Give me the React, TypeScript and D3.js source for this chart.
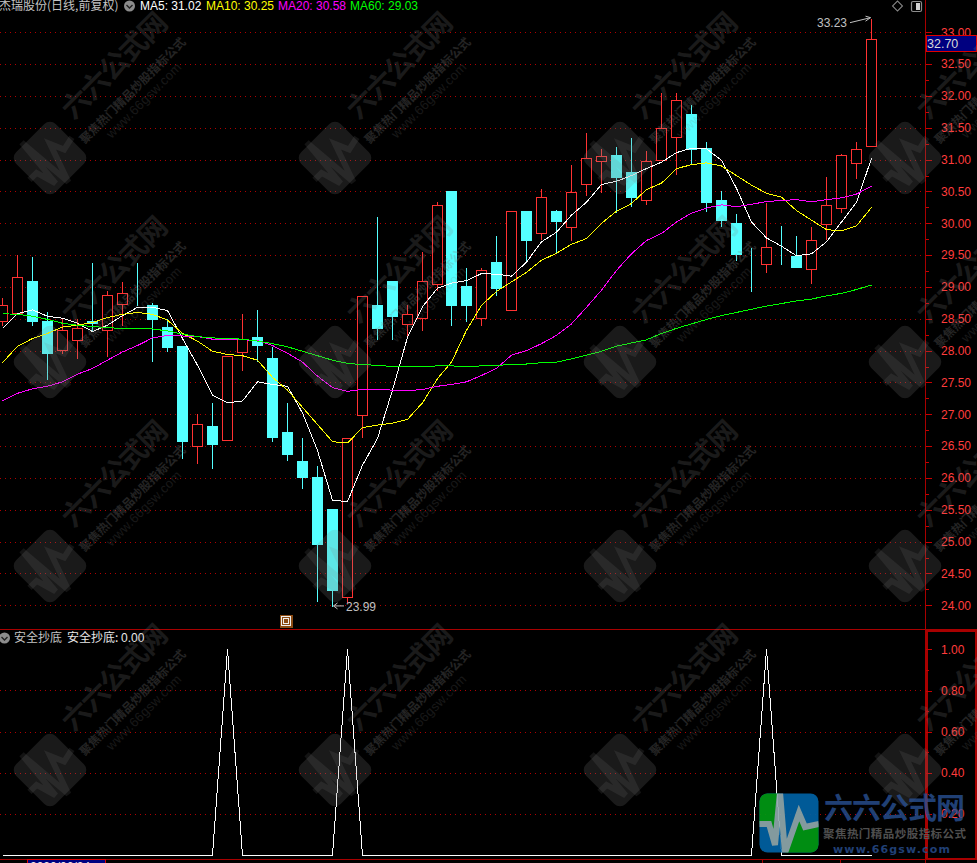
import React, { useEffect, useRef } from 'react';
import * as d3 from 'd3';

const WIDTH = 977;
const HEIGHT = 863;

// daily prices, one entry per candle
const opens = [28.47, 28.59, 29.10, 28.46, 28.01, 28.17, 28.46, 28.33, 28.74, 28.82, 28.71, 28.37, 28.08, 26.50, 26.81, 26.60, 27.98, 28.21, 27.88, 26.72, 26.26, 26.01, 25.52, 24.13, 26.99, 28.71, 29.09, 28.42, 28.51, 29.05, 30.50, 29.01, 28.51, 29.40, 28.64, 30.19, 29.85, 30.20, 29.94, 30.62, 30.98, 31.07, 30.80, 30.36, 30.99, 31.35, 31.71, 31.19, 30.36, 30.00, 29.39, 29.36, 29.63, 29.48, 29.28, 29.99, 30.24, 30.95, 31.22];
const closes = [28.71, 29.15, 28.47, 27.96, 28.33, 28.35, 28.43, 28.88, 28.90, 28.82, 28.50, 28.06, 26.58, 26.85, 26.53, 27.92, 28.18, 28.09, 26.64, 26.38, 26.01, 24.96, 24.24, 26.62, 28.86, 28.35, 28.55, 28.57, 29.10, 30.29, 28.71, 28.71, 29.26, 28.98, 30.20, 29.73, 30.42, 30.03, 30.49, 31.02, 31.06, 30.72, 30.41, 30.98, 31.49, 31.93, 31.17, 30.33, 30.05, 29.51, 29.39, 29.62, 29.63, 29.32, 29.73, 30.28, 31.07, 31.16, 32.89];
const highs = [28.84, 29.51, 29.48, 28.63, 28.51, 28.52, 29.39, 28.96, 29.10, 29.40, 28.76, 28.52, 28.08, 27.02, 27.19, 27.92, 28.59, 28.66, 28.07, 27.19, 26.65, 26.20, 25.52, 26.63, 28.86, 30.11, 29.09, 28.73, 29.56, 30.35, 30.50, 29.31, 29.32, 29.81, 30.20, 30.20, 30.55, 30.22, 30.93, 31.43, 31.19, 31.21, 31.35, 31.15, 32.06, 32.07, 31.88, 31.30, 30.52, 30.16, 29.62, 30.33, 29.97, 29.81, 29.95, 30.75, 31.10, 31.29, 33.23];
const lows = [28.41, 28.59, 28.41, 27.55, 27.96, 27.88, 28.32, 27.92, 28.41, 28.71, 27.84, 28.00, 26.31, 26.24, 26.15, 26.60, 27.70, 27.84, 26.58, 26.29, 25.84, 24.06, 23.99, 24.05, 26.64, 28.19, 28.19, 28.21, 28.33, 28.95, 28.41, 28.47, 28.40, 28.87, 28.64, 29.42, 29.75, 29.53, 29.73, 30.44, 30.49, 30.18, 30.27, 30.31, 30.99, 30.77, 30.94, 30.20, 29.96, 29.42, 28.93, 29.23, 29.36, 29.31, 29.07, 29.75, 30.17, 30.71, 31.22];

const ma5 = [28.35, 28.58, 28.64, 28.54, 28.51, 28.43, 28.30, 28.40, 28.55, 28.68, 28.68, 28.63, 28.19, 27.77, 27.30, 27.18, 27.21, 27.51, 27.47, 27.44, 27.02, 26.43, 25.65, 25.63, 26.20, 26.62, 27.38, 28.21, 28.69, 28.98, 29.06, 29.10, 29.21, 29.20, 29.17, 29.39, 29.71, 29.86, 30.13, 30.33, 30.61, 30.66, 30.75, 30.86, 30.96, 31.11, 31.18, 31.17, 30.99, 30.55, 30.02, 29.77, 29.64, 29.49, 29.52, 29.71, 30.02, 30.33, 31.02];
const ma10 = [27.81, 28.07, 28.19, 28.27, 28.37, 28.40, 28.44, 28.52, 28.57, 28.60, 28.57, 28.48, 28.27, 28.15, 27.99, 27.94, 27.92, 27.85, 27.58, 27.38, 27.11, 26.84, 26.57, 26.55, 26.79, 26.83, 26.86, 26.92, 27.18, 27.56, 27.82, 28.32, 28.71, 28.93, 29.08, 29.23, 29.42, 29.53, 29.67, 29.76, 30.00, 30.19, 30.31, 30.53, 30.63, 30.86, 30.92, 30.95, 30.90, 30.75, 30.60, 30.47, 30.41, 30.20, 30.05, 29.90, 29.88, 29.96, 30.25];
const ma20 = [27.21, 27.33, 27.40, 27.44, 27.51, 27.63, 27.72, 27.85, 27.98, 28.08, 28.20, 28.24, 28.23, 28.22, 28.18, 28.18, 28.17, 28.16, 28.08, 27.96, 27.82, 27.60, 27.42, 27.36, 27.39, 27.39, 27.38, 27.37, 27.39, 27.44, 27.47, 27.51, 27.61, 27.72, 27.93, 28.00, 28.11, 28.24, 28.42, 28.68, 28.95, 29.26, 29.52, 29.73, 29.84, 30.02, 30.16, 30.24, 30.29, 30.26, 30.30, 30.34, 30.36, 30.37, 30.34, 30.37, 30.40, 30.46, 30.58];
const ma60 = [28.58, 28.57, 28.54, 28.49, 28.43, 28.40, 28.38, 28.36, 28.35, 28.35, 28.34, 28.31, 28.26, 28.22, 28.20, 28.19, 28.18, 28.15, 28.11, 28.06, 27.99, 27.92, 27.85, 27.80, 27.78, 27.77, 27.75, 27.75, 27.75, 27.76, 27.76, 27.75, 27.76, 27.77, 27.78, 27.79, 27.81, 27.82, 27.87, 27.93, 27.99, 28.07, 28.12, 28.17, 28.27, 28.35, 28.42, 28.49, 28.55, 28.60, 28.65, 28.70, 28.74, 28.78, 28.81, 28.86, 28.90, 28.96, 29.03];

const signal = [0, 0, 0, 0, 0, 0, 0, 0, 0, 0, 0, 0, 0, 0, 0, 1, 0, 0, 0, 0, 0, 0, 0, 1, 0, 0, 0, 0, 0, 0, 0, 0, 0, 0, 0, 0, 0, 0, 0, 0, 0, 0, 0, 0, 0, 0, 0, 0, 0, 0, 0, 1, 0, 0, 0, 0, 0, 0, 0];

const priceTicks = [24, 24.5, 25, 25.5, 26, 26.5, 27, 27.5, 28, 28.5, 29, 29.5, 30, 30.5, 31, 31.5, 32, 32.5, 33];
const priceMinorTicks = priceTicks.slice(0, -1).map(t => t + 0.25);
const signalTicks = [0.2, 0.4, 0.6, 0.8, 1];
const signalMinorTicks = [0.3, 0.5, 0.7, 0.9];

const maSeries = [
  { name: 'MA5', values: ma5, color: '#ffffff', labelX: 140 },
  { name: 'MA10', values: ma10, color: '#ffff00', labelX: 206 },
  { name: 'MA20', values: ma20, color: '#ff00ff', labelX: 278 },
  { name: 'MA60', values: ma60, color: '#00ff00', labelX: 350 },
];

const STOCK_TITLE = '杰瑞股份(日线,前复权)';
const INDICATOR_NAME = '安全抄底';
const SITE_NAME = '六六公式网';
const SITE_SLOGAN = '聚焦热门精品炒股指标公式';
const SITE_URL = 'www.66gsw.com';
const LAST_PRICE = 32.7;
const HIGH_PRICE = 33.23;
const LOW_PRICE = 23.99;

const RED = '#ff3232';
const CYAN = '#54ffff';
const FRAME = '#a80000';
const GRID = '#b00000';
const LATIN = '"Liberation Sans", Arial, sans-serif';
const CJK = '"Noto Sans CJK SC", sans-serif';

// pulse drawn through the site logo, in logo units around its centre
const logoPulse: [number, number][] = [[-30, 1], [-20, 1], [-14, 22], [-9, -31], [-4, 30], [10, -10], [16, 4], [30, 1]];

export default function App() {
  const svgRef = useRef<SVGSVGElement>(null);

  useEffect(() => {
    if (!svgRef.current) return;
    const svg = d3.select(svgRef.current);
    svg.selectAll('*').remove();

    const x = d3.scaleLinear().domain([0, opens.length - 1]).range([2.5, 871.5]);
    const px = (i: number) => Math.floor(x(i)) + 0.5;
    const y = d3.scaleLinear().domain([24, 33]).range([605.3, 32.3]);
    const py = (v: number) => Math.round(y(v)) + 0.5;
    const ySignal = d3.scaleLinear().domain([0, 1]).range([855.3, 649.3]);

    svg.append('rect').attr('width', WIDTH).attr('height', HEIGHT).attr('fill', '#000');

    // Grid lines
    const grid = svg.append('g').attr('stroke', GRID).attr('stroke-dasharray', '1,4').attr('shape-rendering', 'crispEdges');
    priceTicks.forEach(t => {
      grid.append('line').attr('x1', 0).attr('x2', 925).attr('y1', py(t)).attr('y2', py(t));
    });
    signalTicks.slice(0, -1).forEach(t => {
      const gy = Math.round(ySignal(t)) + 0.5;
      grid.append('line').attr('x1', 0).attr('x2', 925).attr('y1', gy).attr('y2', gy);
    });

    // Candles
    const candles = svg.append('g').attr('shape-rendering', 'crispEdges');
    opens.forEach((open, i) => {
      const close = closes[i];
      const up = close > open;
      const color = up ? RED : CYAN;
      candles.append('line')
        .attr('x1', px(i)).attr('x2', px(i))
        .attr('y1', py(highs[i])).attr('y2', py(lows[i]))
        .attr('stroke', color);
      const top = py(Math.max(open, close));
      const bottom = py(Math.min(open, close));
      candles.append('rect')
        .attr('x', px(i) - 5).attr('width', 10)
        .attr('y', top).attr('height', bottom - top)
        .attr('fill', up ? '#000' : CYAN)
        .attr('stroke', color);
    });

    // Moving averages
    const maLine = d3.line<number>().x((_, i) => px(i)).y(d => y(d));
    maSeries.forEach(s => {
      svg.append('path')
        .attr('d', maLine(s.values))
        .attr('fill', 'none')
        .attr('stroke', s.color)
        .attr('shape-rendering', 'crispEdges');
    });

    // Indicator panel
    const signalLine = d3.line<number>().x((_, i) => px(i)).y(d => ySignal(d));
    svg.append('path')
      .attr('d', signalLine(signal))
      .attr('fill', 'none')
      .attr('stroke', '#fff')
      .attr('shape-rendering', 'crispEdges');

    // Frame
    const frame = svg.append('g').attr('stroke', FRAME).attr('shape-rendering', 'crispEdges').attr('fill', 'none');
    frame.append('line').attr('x1', 0).attr('x2', WIDTH).attr('y1', 629.5).attr('y2', 629.5);
    frame.append('line').attr('x1', 0).attr('x2', WIDTH).attr('y1', 859.5).attr('y2', 859.5);
    frame.append('line').attr('x1', 925.5).attr('x2', 925.5).attr('y1', 0).attr('y2', HEIGHT);
    frame.append('rect').attr('x', 926.5).attr('y', 630.5).attr('width', 49).attr('height', 228).attr('stroke-width', 2);
    [762.5, 840.5].forEach(tx => {
      frame.append('line').attr('x1', tx).attr('x2', tx).attr('y1', 860).attr('y2', HEIGHT);
    });

    // Right axes
    const styleAxis = (g: d3.Selection<SVGGElement, unknown, null, undefined>) => {
      g.select('.domain').remove();
      g.selectAll('.tick line').attr('stroke', '#c80000').attr('shape-rendering', 'crispEdges');
      g.selectAll('.tick text')
        .attr('fill', '#ff3c3c')
        .attr('font-family', LATIN)
        .attr('font-size', 12);
    };
    const priceAxis = d3.axisRight(y).tickValues(priceTicks).tickSize(6).tickPadding(9).tickFormat(d => d3.format('.2f')(d as number));
    svg.append('g').attr('transform', 'translate(926,0)').call(priceAxis).call(styleAxis);
    const priceMinor = d3.axisRight(y).tickValues(priceMinorTicks).tickSize(3).tickFormat(() => '');
    svg.append('g').attr('transform', 'translate(926,0)').call(priceMinor).call(styleAxis);
    const signalAxis = d3.axisRight(ySignal).tickValues(signalTicks).tickSize(6).tickPadding(9).tickFormat(d => d3.format('.2f')(d as number));
    svg.append('g').attr('transform', 'translate(926,0)').call(signalAxis).call(styleAxis);
    const signalMinor = d3.axisRight(ySignal).tickValues(signalMinorTicks).tickSize(3).tickFormat(() => '');
    svg.append('g').attr('transform', 'translate(926,0)').call(signalMinor).call(styleAxis);

    // Last price box
    svg.append('rect')
      .attr('x', 926.5).attr('y', 35.5).attr('width', 50).attr('height', 16)
      .attr('fill', '#000080').attr('stroke', '#e00000').attr('shape-rendering', 'crispEdges');
    svg.append('text')
      .attr('x', 927).attr('y', 48)
      .attr('fill', '#d8d8d8').attr('font-family', LATIN).attr('font-size', 12.5)
      .text(d3.format('.2f')(LAST_PRICE));

    // Header labels
    const label = (tx: number, ty: number, text: string, color: string, family = LATIN) =>
      svg.append('text').attr('x', tx).attr('y', ty).attr('fill', color)
        .attr('font-family', family).attr('font-size', 12).text(text);

    const chevronIcon = (cx: number, cy: number) => {
      svg.append('circle').attr('cx', cx).attr('cy', cy).attr('r', 5.5).attr('fill', '#8c8c8c');
      svg.append('path')
        .attr('d', `M${cx - 3},${cy - 1}L${cx},${cy + 2}L${cx + 3},${cy - 1}`)
        .attr('fill', 'none').attr('stroke', '#222').attr('stroke-width', 1.4);
    };

    label(-1, 10, STOCK_TITLE, '#c4c4c4', CJK);
    chevronIcon(129.5, 6);
    maSeries.forEach(s => {
      label(s.labelX, 10, `${s.name}: ${d3.format('.2f')(s.values[s.values.length - 1])}`, s.color);
    });
    chevronIcon(4.5, 638);
    label(14, 642, INDICATOR_NAME, '#c4c4c4', CJK);
    label(67, 642, `${INDICATOR_NAME}:`, '#e8e8e8', CJK);
    label(121, 642, d3.format('.2f')(signal[signal.length - 1]), '#e8e8e8');

    // Toolbar icons
    svg.append('rect')
      .attr('x', 894).attr('y', 2.5).attr('width', 7).attr('height', 7)
      .attr('transform', 'rotate(45 897.5 6)')
      .attr('fill', 'none').attr('stroke', '#8c8c8c');
    svg.append('rect')
      .attr('x', 911.5).attr('y', 1.5).attr('width', 10).attr('height', 10).attr('rx', 1.5)
      .attr('fill', 'none').attr('stroke', '#8c8c8c').attr('stroke-width', 1.2);
    svg.append('rect').attr('x', 916).attr('y', 3).attr('width', 4).attr('height', 7).attr('fill', '#d0d0d0');

    // Gold marker under the low
    svg.append('rect').attr('x', 280).attr('y', 615).attr('width', 13).attr('height', 13).attr('fill', '#8b4a12');
    svg.append('rect').attr('x', 281.5).attr('y', 616.5).attr('width', 9).attr('height', 9).attr('fill', 'none').attr('stroke', '#eee').attr('shape-rendering', 'crispEdges');
    svg.append('rect').attr('x', 283.5).attr('y', 618.5).attr('width', 5).attr('height', 5).attr('fill', 'none').attr('stroke', '#eee').attr('shape-rendering', 'crispEdges');

    // High and low notes
    const highY = y(HIGH_PRICE);
    const lowY = y(LOW_PRICE);
    const noteColor = '#c0c0c0';
    label(817, highY + 9.5, d3.format('.2f')(HIGH_PRICE), noteColor);
    svg.append('path')
      .attr('d', `M850,${highY + 5}L${px(58) - 1},${highY}M${px(58) - 6},${highY - 1.5}L${px(58) - 1},${highY}L${px(58) - 6},${highY + 3.5}`)
      .attr('fill', 'none').attr('stroke', noteColor);
    label(346, lowY + 5.5, d3.format('.2f')(LOW_PRICE), noteColor);
    svg.append('path')
      .attr('d', `M344,${lowY}L${px(22) + 1},${lowY}M${px(22) + 5},${lowY - 3}L${px(22) + 1},${lowY}L${px(22) + 5},${lowY + 3}`)
      .attr('fill', 'none').attr('stroke', noteColor);

    // Date box at the very bottom, cut off by the window
    svg.append('rect').attr('x', 27.5).attr('y', 859.5).attr('width', 78).attr('height', 10)
      .attr('fill', '#000080').attr('stroke', '#e00000').attr('shape-rendering', 'crispEdges');
    label(30, 871, '2020/06/24', '#e8e8e8');

    // Watermarks
    const pulsePath = d3.line()(logoPulse) as string;
    const markGray = '#808080';
    const markRows = [158, 362, 566, 770];
    const markCols = [50, 335, 620, 905];
    markRows.forEach(my => markCols.forEach(mx => {
      const mark = svg.append('g').attr('transform', `translate(${mx},${my}) rotate(-45)`).attr('fill', markGray);
      mark.append('rect').attr('x', -28).attr('y', -28).attr('width', 56).attr('height', 56).attr('rx', 8).attr('opacity', 0.2);
      mark.append('path').attr('d', pulsePath).attr('fill', 'none').attr('stroke', markGray).attr('stroke-width', 6).attr('opacity', 0.15);
      mark.append('text').attr('x', 111).attr('y', -10).attr('text-anchor', 'middle')
        .attr('font-family', CJK).attr('font-weight', 700).attr('font-size', 28)
        .attr('textLength', 136).attr('opacity', 0.2).text(SITE_NAME);
      mark.append('text').attr('x', 106).attr('y', 15).attr('text-anchor', 'middle')
        .attr('font-family', CJK).attr('font-weight', 700).attr('font-size', 12)
        .attr('textLength', 144).attr('opacity', 0.28).text(SITE_SLOGAN);
      mark.append('text').attr('x', 107).attr('y', 30).attr('text-anchor', 'middle')
        .attr('font-family', LATIN).attr('font-size', 13)
        .attr('textLength', 100).attr('opacity', 0.18).text(SITE_URL);
    }));

    // Site logo, bottom right
    const defs = svg.append('defs');
    defs.append('clipPath').attr('id', 'logo-clip')
      .append('rect').attr('x', -29.5).attr('y', -29.5).attr('width', 59).attr('height', 59).attr('rx', 8);
    const logo = svg.append('g').attr('transform', 'translate(789,823)').attr('opacity', 0.92);
    const mark = logo.append('g').attr('clip-path', 'url(#logo-clip)');
    mark.append('rect').attr('x', -30).attr('y', -30).attr('width', 60).attr('height', 60).attr('fill', '#0062a4');
    mark.append('path').attr('d', 'M-30,1L-20,1L-14,22L-9,-31L-30,-31Z').attr('fill', '#009a14');
    mark.append('path').attr('d', 'M-4,30L10,-10L16,4L30,1L30,30Z').attr('fill', '#009a14');
    mark.append('path').attr('d', pulsePath).attr('fill', 'none').attr('stroke', '#8fa8ac').attr('stroke-width', 6);

    const site = svg.append('g').attr('opacity', 0.78);
    site.append('text').attr('x', 824).attr('y', 819)
      .attr('fill', '#2a5296').attr('font-family', CJK).attr('font-weight', 700).attr('font-size', 29)
      .attr('textLength', 141).text(SITE_NAME);
    site.append('text').attr('x', 823).attr('y', 838)
      .attr('fill', '#666').attr('font-family', CJK).attr('font-weight', 700).attr('font-size', 11.5)
      .attr('textLength', 143).text(SITE_SLOGAN);
    site.append('text').attr('x', 833).attr('y', 853)
      .attr('fill', '#2a5296').attr('font-family', '"DejaVu Sans", sans-serif').attr('font-weight', 700).attr('font-size', 11)
      .attr('textLength', 117).text(SITE_URL);
  }, []);

  return (
    <svg
      ref={svgRef}
      width={WIDTH}
      height={HEIGHT}
      style={{ position: 'fixed', left: 0, top: 0, display: 'block' }}
    />
  );
}
